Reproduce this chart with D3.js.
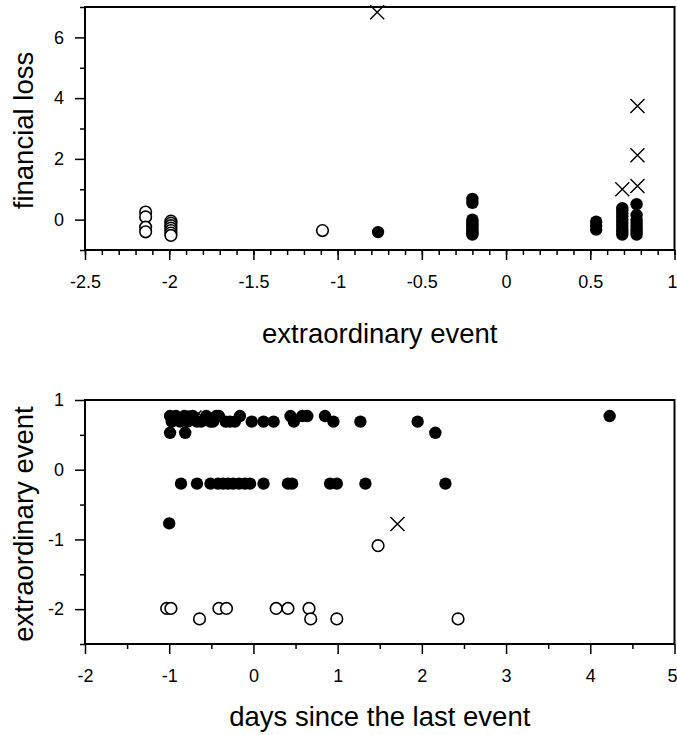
<!DOCTYPE html>
<html>
<head>
<meta charset="utf-8">
<script src="https://cdn.jsdelivr.net/npm/d3@7"></script>
<style>
  body { margin: 0; background: #fff; }
  svg { display: block; }
</style>
</head>
<body>
<div id="chart"></div>
<script>
// top panel: extraordinary event (x) vs financial loss (y)
const lossOpenX = [-2.14, -2.14, -2.14, -2.14, -1.99, -1.99, -1.99, -1.99, -1.99, -1.99, -1.99, -1.09];
const lossOpenY = [0.25, 0.09, -0.25, -0.40, -0.05, -0.12, -0.20, -0.28, -0.36, -0.44, -0.52, -0.36];
const lossFilledX = [-0.76,
  -0.2, -0.2, -0.2, -0.2, -0.2, -0.2, -0.2, -0.2, -0.2, -0.2,
  0.535, 0.535, 0.535,
  0.69, 0.69, 0.69, 0.69, 0.69, 0.69, 0.69, 0.69, 0.69, 0.69,
  0.775, 0.775, 0.775, 0.775, 0.775, 0.775, 0.775, 0.775];
const lossFilledY = [-0.41,
  0.68, 0.55, 0.0, -0.08, -0.15, -0.22, -0.30, -0.38, -0.45, -0.49,
  -0.07, -0.33, -0.20,
  0.38, 0.30, 0.20, 0.10, 0.0, -0.10, -0.20, -0.30, -0.40, -0.49,
  0.51, 0.15, 0.0, -0.10, -0.20, -0.30, -0.40, -0.49];
const lossCrossX = [-0.765, 0.69, 0.78, 0.78, 0.78];
const lossCrossY = [6.83, 1.0, 3.74, 2.12, 1.11];

// bottom panel: days since the last event (x) vs extraordinary event (y)
const daysOpenX = [-1.03, -0.98, -0.41, -0.32, 0.27, 0.41, 0.66, -0.64, 0.68, 0.99, 2.43, 1.48];
const daysOpenY = [-1.99, -1.99, -1.99, -1.99, -1.99, -1.99, -1.99, -2.14, -2.14, -2.14, -2.14, -1.09];
const daysFilledX = [
  -0.99, -0.92, -0.82, -0.72, -0.56, -0.44, -0.41, -0.16, 0.44, 0.58, 0.64, 0.85, 4.23,
  -0.97, -0.87, -0.78, -0.67, -0.62, -0.51, -0.48, -0.33, -0.28, -0.22, -0.02, 0.12, 0.24, 0.48, 0.95, 1.27, 1.95,
  -0.99, -0.81, 2.16,
  -0.86, -0.67, -0.51, -0.42, -0.36, -0.30, -0.24, -0.17, -0.10, -0.04, 0.12, 0.41, 0.46, 0.91, 0.99, 1.33, 2.28,
  -1.0];
const daysFilledY = [
  0.77, 0.77, 0.77, 0.77, 0.77, 0.77, 0.77, 0.77, 0.77, 0.77, 0.77, 0.77, 0.77,
  0.69, 0.69, 0.69, 0.69, 0.69, 0.69, 0.69, 0.69, 0.69, 0.69, 0.69, 0.69, 0.69, 0.69, 0.69, 0.69, 0.69,
  0.53, 0.53, 0.53,
  -0.2, -0.2, -0.2, -0.2, -0.2, -0.2, -0.2, -0.2, -0.2, -0.2, -0.2, -0.2, -0.2, -0.2, -0.2, -0.2, -0.2,
  -0.77];
const daysCrossX = [-0.84, -0.70, -0.58, -0.50, 1.71];
const daysCrossY = [0.75, 0.75, 0.72, 0.75, -0.78];

// axis ticks
const lossXMajor = [-2.5, -2, -1.5, -1, -0.5, 0, 0.5, 1];
const lossXMinor = d3.range(-25, 11).map(d => d / 10);
const lossYMajor = [0, 2, 4, 6];
const lossYMinor = [-1, 1, 3, 5, 7];
const daysXMajor = [-2, -1, 0, 1, 2, 3, 4, 5];
const daysXMinor = [-1.5, -0.5, 0.5, 1.5, 2.5, 3.5, 4.5];
const daysYMajor = [-2, -1, 0, 1];
const daysYMinor = [-2.5, -1.5, -0.5, 0.5];

const width = 677, height = 735;
const font = "'Liberation Sans', Arial, sans-serif";

const svg = d3.select("#chart").append("svg")
    .attr("width", width)
    .attr("height", height)
    .attr("viewBox", [0, 0, width, height]);

function panel({
  top, bottom, left = 85, right = 674.5,
  xDomain, yDomain, xMajor, xMinor, yMajor, yMinor,
  xLabel, yLabel, xLabelY,
  openX, openY, filledX, filledY, crossX, crossY
}) {
  const x = d3.scaleLinear(xDomain, [left, right]);
  const y = d3.scaleLinear(yDomain, [bottom, top]);
  const fmt = d => String(d); // plain hyphen, like the original

  const g = svg.append("g");

  // minor ticks first, then major with labels
  g.append("g")
      .attr("transform", `translate(0,${bottom})`)
      .call(d3.axisBottom(x).tickValues(xMinor).tickSize(5).tickFormat(""))
      .call(a => a.select(".domain").remove());
  g.append("g")
      .attr("transform", `translate(0,${bottom})`)
      .call(d3.axisBottom(x).tickValues(xMajor).tickSize(10).tickPadding(15).tickFormat(fmt))
      .call(a => a.select(".domain").remove())
      // last label sits on the page edge; nudge it in
      .call(a => a.selectAll(".tick").filter(d => d === xDomain[1]).select("text").attr("dx", -2.5));
  g.append("g")
      .attr("transform", `translate(${left},0)`)
      .call(d3.axisLeft(y).tickValues(yMinor).tickSize(5).tickFormat(""))
      .call(a => a.select(".domain").remove());
  g.append("g")
      .attr("transform", `translate(${left},0)`)
      .call(d3.axisLeft(y).tickValues(yMajor).tickSize(10).tickPadding(11).tickFormat(fmt))
      .call(a => a.select(".domain").remove());

  g.selectAll(".tick line").attr("stroke", "#000").attr("stroke-width", 1.5);
  g.selectAll(".tick text")
      .attr("fill", "#000")
      .attr("font-family", font)
      .attr("font-size", 18);

  // frame
  g.append("rect")
      .attr("x", left)
      .attr("y", top)
      .attr("width", right - left)
      .attr("height", bottom - top)
      .attr("fill", "none")
      .attr("stroke", "#000")
      .attr("stroke-width", 2);

  // open circles
  g.append("g")
    .selectAll("circle")
    .data(d3.range(openX.length))
    .join("circle")
      .attr("cx", i => x(openX[i]))
      .attr("cy", i => y(openY[i]))
      .attr("r", 5.8)
      .attr("fill", "#fff")
      .attr("stroke", "#000")
      .attr("stroke-width", 1.6);

  // filled circles
  g.append("g")
    .selectAll("circle")
    .data(d3.range(filledX.length))
    .join("circle")
      .attr("cx", i => x(filledX[i]))
      .attr("cy", i => y(filledY[i]))
      .attr("r", 6.2)
      .attr("fill", "#000");

  // crosses
  const s = 7;
  g.append("g")
    .selectAll("path")
    .data(d3.range(crossX.length))
    .join("path")
      .attr("d", i => {
        const cx = x(crossX[i]), cy = y(crossY[i]);
        return `M${cx - s},${cy - s}L${cx + s},${cy + s}M${cx - s},${cy + s}L${cx + s},${cy - s}`;
      })
      .attr("fill", "none")
      .attr("stroke", "#000")
      .attr("stroke-width", 1.4);

  // axis titles
  g.append("text")
      .attr("x", (left + right) / 2)
      .attr("y", xLabelY)
      .attr("text-anchor", "middle")
      .attr("font-family", font)
      .attr("font-size", 27.5)
      .text(xLabel);
  g.append("text")
      .attr("transform", `translate(33,${(top + bottom) / 2 + 2}) rotate(-90)`)
      .attr("text-anchor", "middle")
      .attr("font-family", font)
      .attr("font-size", 27.5)
      .text(yLabel);
}

panel({
  top: 7, bottom: 250,
  xDomain: [-2.5, 1], yDomain: [-1, 7],
  xMajor: lossXMajor, xMinor: lossXMinor, yMajor: lossYMajor, yMinor: lossYMinor,
  xLabel: "extraordinary event", yLabel: "financial loss", xLabelY: 343,
  openX: lossOpenX, openY: lossOpenY,
  filledX: lossFilledX, filledY: lossFilledY,
  crossX: lossCrossX, crossY: lossCrossY
});

panel({
  top: 400, bottom: 644,
  xDomain: [-2, 5], yDomain: [-2.5, 1],
  xMajor: daysXMajor, xMinor: daysXMinor, yMajor: daysYMajor, yMinor: daysYMinor,
  xLabel: "days since the last event", yLabel: "extraordinary event", xLabelY: 726,
  openX: daysOpenX, openY: daysOpenY,
  filledX: daysFilledX, filledY: daysFilledY,
  crossX: daysCrossX, crossY: daysCrossY
});
</script>
</body>
</html>
